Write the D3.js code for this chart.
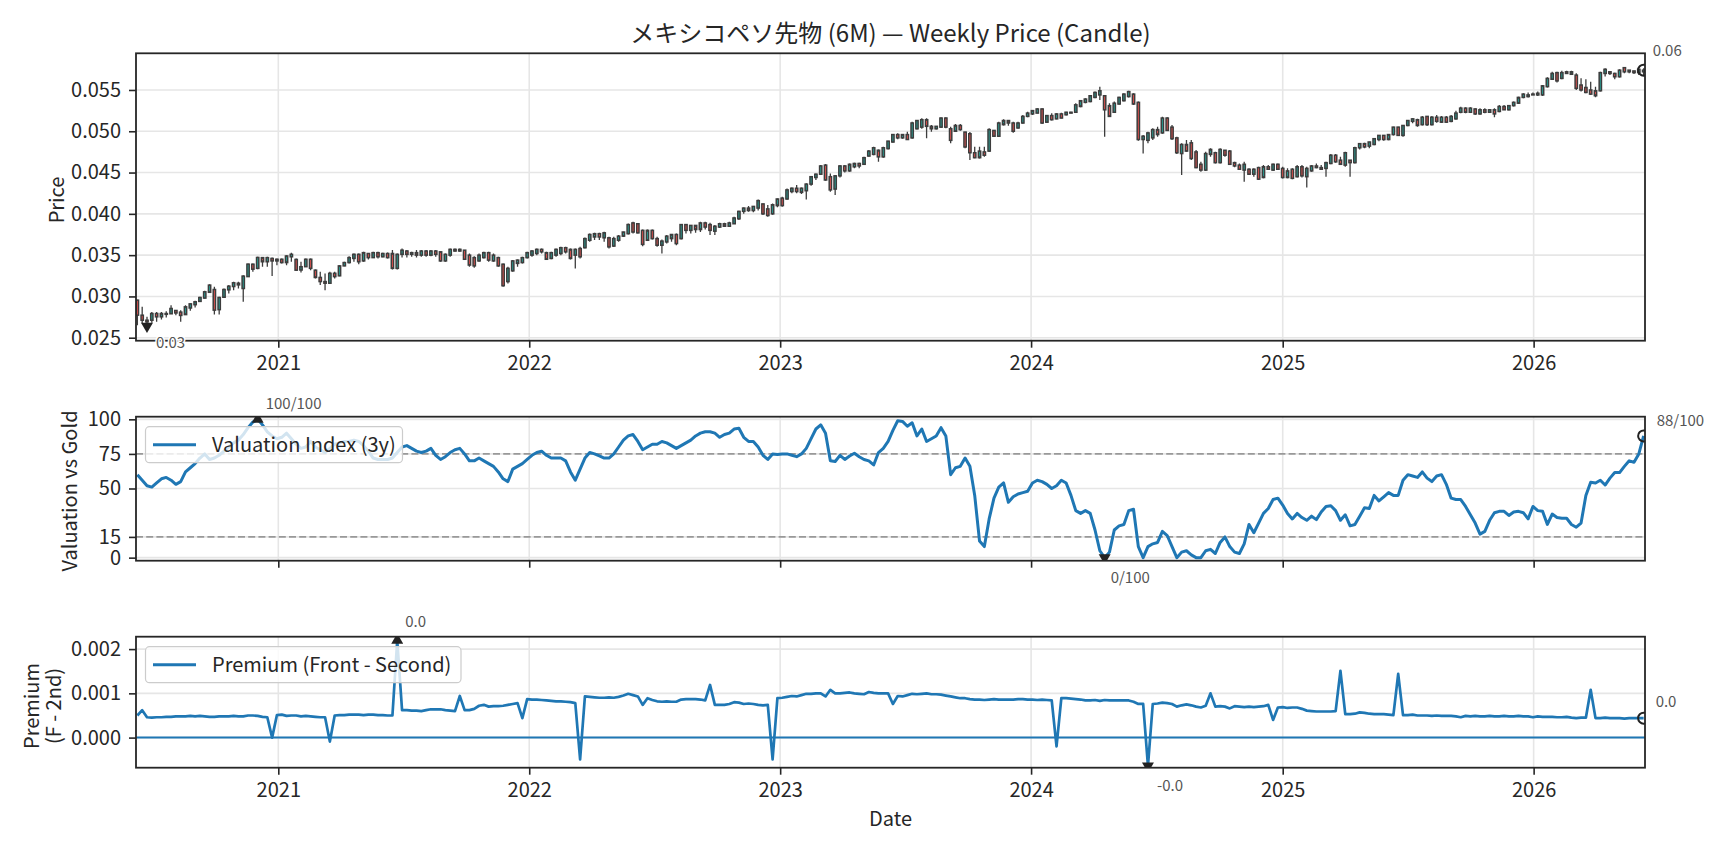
<!DOCTYPE html>
<html>
<head>
<meta charset="utf-8">
<script src="https://cdn.jsdelivr.net/npm/d3@7"></script>
<style>
  body { margin: 0; background: #fff; }
  svg text { font-family: "Noto Sans CJK JP", "Noto Sans", sans-serif; }
</style>
</head>
<body>
<div id="chart"></div>
<script>
// ---- data (weekly, first week below) ----
var firstWeek = "2020-06-10";

var priceOpen = [
  0.02955, 0.02773, 0.02712, 0.02712, 0.02793, 0.02753, 0.02793, 0.02790, 0.02830, 0.02810,
  0.02780, 0.02860, 0.02900, 0.02940, 0.02980, 0.03050, 0.03084, 0.02840, 0.02990, 0.03080,
  0.03120, 0.03160, 0.03096, 0.03240, 0.03390, 0.03340, 0.03470, 0.03420, 0.03460, 0.03430,
  0.03450, 0.03410, 0.03480, 0.03448, 0.03320, 0.03360, 0.03450, 0.03318, 0.03230, 0.03180,
  0.03160, 0.03280, 0.03250, 0.03370, 0.03410, 0.03460, 0.03510, 0.03430, 0.03520, 0.03470,
  0.03530, 0.03480, 0.03520, 0.03520, 0.03340, 0.03510, 0.03550, 0.03510, 0.03530, 0.03500,
  0.03550, 0.03500, 0.03550, 0.03540, 0.03430, 0.03500, 0.03570, 0.03550, 0.03560, 0.03500,
  0.03470, 0.03430, 0.03470, 0.03530, 0.03430, 0.03470, 0.03390, 0.03180, 0.03310, 0.03400,
  0.03410, 0.03470, 0.03500, 0.03520, 0.03570, 0.03530, 0.03460, 0.03500, 0.03520, 0.03590,
  0.03570, 0.03500, 0.03580, 0.03590, 0.03680, 0.03720, 0.03760, 0.03710, 0.03710, 0.03610,
  0.03680, 0.03730, 0.03760, 0.03890, 0.03880, 0.03800, 0.03680, 0.03800, 0.03700, 0.03620,
  0.03660, 0.03700, 0.03750, 0.03700, 0.03870, 0.03800, 0.03860, 0.03810, 0.03890, 0.03870,
  0.03790, 0.03840, 0.03880, 0.03850, 0.03880, 0.03940, 0.04030, 0.04070, 0.04040, 0.04070,
  0.04120, 0.04060, 0.04000, 0.04100, 0.04190, 0.04180, 0.04270, 0.04310, 0.04260, 0.04280,
  0.04360, 0.04440, 0.04480, 0.04590, 0.04450, 0.04300, 0.04460, 0.04580, 0.04520, 0.04570,
  0.04610, 0.04600, 0.04700, 0.04720, 0.04770, 0.04690, 0.04790, 0.04870, 0.04960, 0.04920,
  0.04960, 0.04920, 0.05030, 0.05050, 0.05140, 0.05060, 0.05030, 0.05050, 0.05160, 0.05030,
  0.05000, 0.05070, 0.04990, 0.04970, 0.04740, 0.04680, 0.04750, 0.04760, 0.05010, 0.04940,
  0.05080, 0.05130, 0.05100, 0.05040, 0.05100, 0.05180, 0.05210, 0.05220, 0.05270, 0.05110,
  0.05190, 0.05150, 0.05210, 0.05200, 0.05230, 0.05230, 0.05300, 0.05350, 0.05360, 0.05410,
  0.05440, 0.05430, 0.05310, 0.05230, 0.05330, 0.05370, 0.05420, 0.05450, 0.05350, 0.04900,
  0.04890, 0.04920, 0.05020, 0.04980, 0.05160, 0.05050, 0.04920, 0.04730, 0.04840, 0.04860,
  0.04750, 0.04600, 0.04530, 0.04720, 0.04740, 0.04620, 0.04770, 0.04760, 0.04620, 0.04590,
  0.04530, 0.04540, 0.04480, 0.04560, 0.04440, 0.04570, 0.04530, 0.04600, 0.04550, 0.04440,
  0.04540, 0.04450, 0.04570, 0.04450, 0.04520, 0.04580, 0.04560, 0.04550, 0.04610, 0.04710,
  0.04650, 0.04590, 0.04650, 0.04620, 0.04800, 0.04850, 0.04820, 0.04840, 0.04900, 0.04950,
  0.04900, 0.04960, 0.05050, 0.04950, 0.05070, 0.05120, 0.05140, 0.05080, 0.05180, 0.05080,
  0.05170, 0.05110, 0.05170, 0.05120, 0.05150, 0.05230, 0.05280, 0.05230, 0.05270, 0.05210,
  0.05260, 0.05230, 0.05260, 0.05240, 0.05300, 0.05260, 0.05310, 0.05340, 0.05410, 0.05420,
  0.05450, 0.05440, 0.05440, 0.05540, 0.05630, 0.05710, 0.05640, 0.05720, 0.05690, 0.05680,
  0.05560, 0.05530, 0.05500, 0.05490, 0.05490, 0.05700, 0.05720, 0.05700, 0.05660, 0.05770,
  0.05720, 0.05730, 0.05710, 0.05720
];

var priceHigh = [
  0.02960, 0.02874, 0.02753, 0.02813, 0.02813, 0.02813, 0.02820, 0.02894, 0.02834, 0.02834,
  0.02894, 0.02914, 0.02947, 0.02995, 0.03068, 0.03149, 0.03116, 0.02995, 0.03096, 0.03137,
  0.03177, 0.03177, 0.03258, 0.03399, 0.03400, 0.03480, 0.03472, 0.03480, 0.03470, 0.03460,
  0.03460, 0.03500, 0.03529, 0.03460, 0.03419, 0.03460, 0.03460, 0.03326, 0.03298, 0.03278,
  0.03298, 0.03298, 0.03379, 0.03419, 0.03488, 0.03520, 0.03520, 0.03541, 0.03525, 0.03541,
  0.03540, 0.03529, 0.03533, 0.03561, 0.03520, 0.03581, 0.03561, 0.03541, 0.03561, 0.03561,
  0.03561, 0.03561, 0.03561, 0.03545, 0.03520, 0.03581, 0.03581, 0.03581, 0.03561, 0.03520,
  0.03488, 0.03520, 0.03541, 0.03541, 0.03520, 0.03480, 0.03399, 0.03359, 0.03440, 0.03448,
  0.03480, 0.03541, 0.03561, 0.03581, 0.03581, 0.03541, 0.03541, 0.03581, 0.03601, 0.03601,
  0.03581, 0.03581, 0.03601, 0.03714, 0.03763, 0.03771, 0.03771, 0.03783, 0.03722, 0.03722,
  0.03743, 0.03783, 0.03884, 0.03904, 0.03884, 0.03811, 0.03811, 0.03811, 0.03722, 0.03690,
  0.03743, 0.03755, 0.03763, 0.03876, 0.03876, 0.03864, 0.03864, 0.03904, 0.03904, 0.03892,
  0.03864, 0.03892, 0.03892, 0.03904, 0.03965, 0.04037, 0.04078, 0.04094, 0.04094, 0.04175,
  0.04126, 0.04106, 0.04126, 0.04187, 0.04207, 0.04308, 0.04320, 0.04349, 0.04320, 0.04369,
  0.04458, 0.04490, 0.04591, 0.04603, 0.04490, 0.04470, 0.04591, 0.04591, 0.04611, 0.04619,
  0.04619, 0.04692, 0.04773, 0.04813, 0.04780, 0.04813, 0.04886, 0.04967, 0.04975, 0.04967,
  0.04995, 0.05116, 0.05136, 0.05157, 0.05157, 0.05076, 0.05064, 0.05169, 0.05169, 0.05056,
  0.05088, 0.05088, 0.04995, 0.04990, 0.04813, 0.04813, 0.04813, 0.05035, 0.05015, 0.05116,
  0.05144, 0.05136, 0.05116, 0.05116, 0.05197, 0.05237, 0.05258, 0.05278, 0.05278, 0.05197,
  0.05217, 0.05217, 0.05225, 0.05237, 0.05237, 0.05338, 0.05379, 0.05399, 0.05439, 0.05480,
  0.05540, 0.05439, 0.05338, 0.05359, 0.05419, 0.05460, 0.05492, 0.05460, 0.05359, 0.04955,
  0.04995, 0.05035, 0.05056, 0.05177, 0.05170, 0.05076, 0.04934, 0.04854, 0.04894, 0.04894,
  0.04773, 0.04631, 0.04753, 0.04793, 0.04753, 0.04793, 0.04773, 0.04773, 0.04631, 0.04611,
  0.04631, 0.04551, 0.04551, 0.04571, 0.04591, 0.04591, 0.04611, 0.04611, 0.04571, 0.04551,
  0.04551, 0.04591, 0.04591, 0.04571, 0.04591, 0.04611, 0.04591, 0.04631, 0.04724, 0.04724,
  0.04692, 0.04753, 0.04652, 0.04813, 0.04854, 0.04862, 0.04874, 0.04914, 0.04955, 0.04955,
  0.04967, 0.05056, 0.05056, 0.05076, 0.05136, 0.05157, 0.05150, 0.05185, 0.05185, 0.05185,
  0.05197, 0.05185, 0.05185, 0.05197, 0.05249, 0.05298, 0.05290, 0.05290, 0.05278, 0.05278,
  0.05278, 0.05266, 0.05278, 0.05318, 0.05318, 0.05318, 0.05359, 0.05419, 0.05460, 0.05468,
  0.05468, 0.05480, 0.05561, 0.05654, 0.05722, 0.05722, 0.05734, 0.05734, 0.05734, 0.05702,
  0.05641, 0.05629, 0.05601, 0.05540, 0.05722, 0.05763, 0.05730, 0.05710, 0.05750, 0.05775,
  0.05742, 0.05734, 0.05750, 0.05763
];

var priceLow = [
  0.02652, 0.02672, 0.02640, 0.02680, 0.02692, 0.02720, 0.02745, 0.02790, 0.02773, 0.02692,
  0.02775, 0.02826, 0.02866, 0.02935, 0.02975, 0.03045, 0.02781, 0.02781, 0.02985, 0.03036,
  0.03076, 0.03096, 0.02935, 0.03235, 0.03298, 0.03330, 0.03359, 0.03359, 0.03246, 0.03379,
  0.03399, 0.03379, 0.03419, 0.03310, 0.03290, 0.03355, 0.03318, 0.03217, 0.03137, 0.03076,
  0.03155, 0.03217, 0.03245, 0.03365, 0.03399, 0.03419, 0.03390, 0.03420, 0.03448, 0.03465,
  0.03460, 0.03475, 0.03460, 0.03326, 0.03326, 0.03472, 0.03472, 0.03480, 0.03472, 0.03480,
  0.03480, 0.03488, 0.03480, 0.03419, 0.03419, 0.03480, 0.03541, 0.03541, 0.03440, 0.03359,
  0.03347, 0.03419, 0.03460, 0.03419, 0.03419, 0.03359, 0.03116, 0.03157, 0.03298, 0.03359,
  0.03399, 0.03460, 0.03480, 0.03500, 0.03520, 0.03440, 0.03450, 0.03480, 0.03500, 0.03520,
  0.03448, 0.03339, 0.03460, 0.03580, 0.03662, 0.03682, 0.03682, 0.03662, 0.03581, 0.03600,
  0.03662, 0.03720, 0.03750, 0.03763, 0.03763, 0.03609, 0.03670, 0.03690, 0.03601, 0.03520,
  0.03642, 0.03662, 0.03621, 0.03690, 0.03763, 0.03763, 0.03771, 0.03780, 0.03811, 0.03743,
  0.03743, 0.03830, 0.03844, 0.03844, 0.03876, 0.03924, 0.04000, 0.04025, 0.04020, 0.04040,
  0.03985, 0.03965, 0.03990, 0.04080, 0.04086, 0.04170, 0.04248, 0.04248, 0.04240, 0.04175,
  0.04340, 0.04410, 0.04470, 0.04401, 0.04268, 0.04227, 0.04440, 0.04502, 0.04510, 0.04551,
  0.04551, 0.04591, 0.04690, 0.04710, 0.04631, 0.04680, 0.04780, 0.04860, 0.04902, 0.04910,
  0.04894, 0.04910, 0.05020, 0.05030, 0.04914, 0.04995, 0.05020, 0.05040, 0.05035, 0.04854,
  0.04995, 0.05007, 0.04793, 0.04652, 0.04672, 0.04670, 0.04692, 0.04750, 0.04934, 0.04930,
  0.05070, 0.05068, 0.04983, 0.05030, 0.05090, 0.05169, 0.05197, 0.05217, 0.05088, 0.05100,
  0.05130, 0.05144, 0.05157, 0.05190, 0.05217, 0.05220, 0.05290, 0.05340, 0.05350, 0.05400,
  0.05379, 0.04934, 0.05177, 0.05220, 0.05320, 0.05360, 0.05410, 0.05318, 0.04886, 0.04732,
  0.04854, 0.04894, 0.04934, 0.04970, 0.05007, 0.04894, 0.04724, 0.04470, 0.04753, 0.04652,
  0.04551, 0.04510, 0.04520, 0.04690, 0.04611, 0.04610, 0.04692, 0.04591, 0.04563, 0.04530,
  0.04389, 0.04470, 0.04450, 0.04409, 0.04430, 0.04530, 0.04520, 0.04530, 0.04429, 0.04430,
  0.04420, 0.04440, 0.04440, 0.04320, 0.04510, 0.04551, 0.04530, 0.04450, 0.04600, 0.04619,
  0.04591, 0.04571, 0.04450, 0.04610, 0.04780, 0.04793, 0.04793, 0.04830, 0.04880, 0.04886,
  0.04890, 0.04950, 0.04942, 0.04934, 0.05060, 0.05096, 0.05056, 0.05070, 0.05064, 0.05070,
  0.05104, 0.05100, 0.05104, 0.05110, 0.05140, 0.05217, 0.05217, 0.05220, 0.05197, 0.05200,
  0.05217, 0.05220, 0.05169, 0.05230, 0.05258, 0.05250, 0.05300, 0.05330, 0.05400, 0.05410,
  0.05439, 0.05427, 0.05427, 0.05530, 0.05620, 0.05589, 0.05630, 0.05694, 0.05682, 0.05500,
  0.05480, 0.05460, 0.05439, 0.05411, 0.05480, 0.05662, 0.05682, 0.05629, 0.05650, 0.05702,
  0.05702, 0.05694, 0.05682, 0.05682
];

var priceClose = [
  0.02773, 0.02712, 0.02692, 0.02793, 0.02753, 0.02793, 0.02790, 0.02854, 0.02800, 0.02770,
  0.02874, 0.02910, 0.02935, 0.02987, 0.03056, 0.03137, 0.02834, 0.02987, 0.03084, 0.03124,
  0.03165, 0.03140, 0.03246, 0.03391, 0.03330, 0.03472, 0.03420, 0.03470, 0.03430, 0.03450,
  0.03410, 0.03490, 0.03510, 0.03318, 0.03360, 0.03450, 0.03340, 0.03230, 0.03180, 0.03160,
  0.03280, 0.03240, 0.03370, 0.03410, 0.03470, 0.03510, 0.03420, 0.03530, 0.03470, 0.03530,
  0.03480, 0.03520, 0.03470, 0.03340, 0.03510, 0.03560, 0.03510, 0.03530, 0.03500, 0.03550,
  0.03500, 0.03550, 0.03510, 0.03430, 0.03510, 0.03570, 0.03550, 0.03570, 0.03450, 0.03380,
  0.03370, 0.03500, 0.03530, 0.03440, 0.03500, 0.03370, 0.03130, 0.03340, 0.03430, 0.03440,
  0.03470, 0.03530, 0.03550, 0.03570, 0.03540, 0.03450, 0.03530, 0.03570, 0.03590, 0.03540,
  0.03460, 0.03570, 0.03480, 0.03700, 0.03750, 0.03760, 0.03720, 0.03770, 0.03600, 0.03700,
  0.03730, 0.03780, 0.03870, 0.03780, 0.03770, 0.03630, 0.03800, 0.03700, 0.03620, 0.03670,
  0.03730, 0.03750, 0.03640, 0.03870, 0.03800, 0.03860, 0.03810, 0.03890, 0.03840, 0.03800,
  0.03850, 0.03880, 0.03850, 0.03890, 0.03950, 0.04030, 0.04070, 0.04040, 0.04090, 0.04160,
  0.04000, 0.03980, 0.04110, 0.04180, 0.04100, 0.04290, 0.04310, 0.04270, 0.04310, 0.04360,
  0.04450, 0.04480, 0.04580, 0.04410, 0.04290, 0.04460, 0.04580, 0.04520, 0.04600, 0.04610,
  0.04580, 0.04680, 0.04760, 0.04800, 0.04690, 0.04800, 0.04880, 0.04960, 0.04920, 0.04960,
  0.04900, 0.05100, 0.05130, 0.05140, 0.05060, 0.05030, 0.05060, 0.05160, 0.05050, 0.04890,
  0.05070, 0.05020, 0.04810, 0.04740, 0.04680, 0.04760, 0.04710, 0.05020, 0.04940, 0.05100,
  0.05130, 0.05100, 0.05000, 0.05100, 0.05180, 0.05220, 0.05250, 0.05270, 0.05100, 0.05190,
  0.05140, 0.05210, 0.05160, 0.05230, 0.05220, 0.05320, 0.05370, 0.05390, 0.05430, 0.05470,
  0.05490, 0.05260, 0.05180, 0.05340, 0.05410, 0.05450, 0.05480, 0.05330, 0.04900, 0.04940,
  0.04980, 0.05020, 0.04960, 0.05160, 0.05010, 0.04910, 0.04740, 0.04840, 0.04760, 0.04670,
  0.04560, 0.04530, 0.04730, 0.04780, 0.04620, 0.04780, 0.04710, 0.04600, 0.04580, 0.04540,
  0.04600, 0.04480, 0.04540, 0.04420, 0.04570, 0.04540, 0.04600, 0.04540, 0.04440, 0.04520,
  0.04430, 0.04570, 0.04460, 0.04550, 0.04580, 0.04560, 0.04540, 0.04620, 0.04710, 0.04630,
  0.04600, 0.04740, 0.04620, 0.04800, 0.04850, 0.04810, 0.04870, 0.04910, 0.04950, 0.04900,
  0.04960, 0.05050, 0.04950, 0.05070, 0.05130, 0.05150, 0.05070, 0.05170, 0.05080, 0.05170,
  0.05120, 0.05170, 0.05110, 0.05180, 0.05220, 0.05280, 0.05230, 0.05280, 0.05210, 0.05260,
  0.05230, 0.05260, 0.05210, 0.05300, 0.05260, 0.05310, 0.05350, 0.05410, 0.05450, 0.05440,
  0.05440, 0.05460, 0.05550, 0.05640, 0.05700, 0.05610, 0.05710, 0.05700, 0.05720, 0.05520,
  0.05500, 0.05470, 0.05450, 0.05430, 0.05710, 0.05750, 0.05700, 0.05660, 0.05740, 0.05720,
  0.05740, 0.05710, 0.05750, 0.05740
];

var valuation = [
  60, 56, 52, 51, 54, 57, 58, 56, 53, 55,
  62, 65, 68, 72, 75, 71, 72, 74, 77, 80,
  83, 85, 89, 94, 98, 100, 96, 91, 88, 86,
  87, 90, 86, 82, 79, 80, 84, 80, 78, 76,
  79, 82, 83, 84, 84, 85, 84, 81, 77, 72,
  71, 71, 71, 72, 76, 80, 81, 79, 77, 76,
  77, 79, 74, 71, 73, 76, 78, 79, 75, 70,
  70, 72, 70, 68, 66, 62, 57, 55, 64, 66,
  68, 71, 74, 76, 77, 74, 72, 72, 72, 70,
  62, 56, 64, 72, 76, 75, 73.5, 72, 72, 75,
  80, 85, 88, 89, 84, 78, 80, 82, 82, 84,
  83, 81, 79, 81, 83, 85, 88, 90, 91, 91,
  90, 87, 89, 90, 93, 93.5, 87, 84, 84, 80,
  74, 71, 75, 74.5, 75, 75, 74, 73, 75, 79,
  86, 93, 96, 90, 70, 69.5, 74, 71, 73.5, 75.5,
  73, 71, 70, 67, 76, 79, 84, 92, 99, 98.5,
  95, 97.5, 88, 93, 84, 86, 88, 94, 88, 60,
  65, 66, 72, 66, 45, 12, 8, 28, 43, 51,
  54, 40, 44, 46, 47, 48, 54, 56, 55, 53,
  50, 52, 56, 54, 45, 34, 32, 34, 32, 20,
  5, 0, 4, 20, 23, 24, 34, 35, 8, 0,
  8, 10, 11, 19, 16, 8, 0, 4, 5, 2,
  0, 0, 5, 6, 3, 11, 15, 8, 4, 3,
  10, 24, 18, 25, 32, 35.5, 42, 43, 38, 32,
  28, 32, 29, 27, 30, 27.5, 33, 37, 37.5, 34,
  27, 31, 23, 24, 30, 36, 35.5, 45, 41, 44,
  47, 45, 45, 56, 60, 59, 58, 62, 57.5, 55,
  59, 60, 53, 43, 42, 42, 37, 31, 25, 17,
  19, 27, 32.5, 33.5, 33.5, 30.5, 33, 33.5, 32.5, 28,
  37, 34, 33.5, 24, 31.5, 29, 28.5, 28.5, 24, 22,
  25, 45, 54.5, 54, 56, 52.5, 57.5, 61.5, 61.5, 66,
  70, 69, 75, 88
];

var premium = [
  0.00050, 0.00062, 0.00046, 0.00045, 0.00046, 0.00046, 0.00047, 0.00047, 0.00048, 0.00048,
  0.00048, 0.00049, 0.00048, 0.00049, 0.00048, 0.00047, 0.00047, 0.00048, 0.00048, 0.00048,
  0.00049, 0.00048, 0.00048, 0.00050, 0.00050, 0.00049, 0.00047, 0.00046, 0.00000, 0.00051,
  0.00052, 0.00049, 0.00050, 0.00050, 0.00048, 0.00049, 0.00048, 0.00047, 0.00046, 0.00046,
  -0.00009, 0.00050, 0.00051, 0.00051, 0.00052, 0.00052, 0.00052, 0.00051, 0.00052, 0.00052,
  0.00051, 0.00051, 0.00050, 0.00050, 0.00220, 0.00062, 0.00062, 0.00061, 0.00061, 0.00060,
  0.00062, 0.00064, 0.00064, 0.00064, 0.00062, 0.00061, 0.00060, 0.00094, 0.00062, 0.00062,
  0.00065, 0.00072, 0.00074, 0.00070, 0.00071, 0.00071, 0.00072, 0.00074, 0.00076, 0.00078,
  0.00044, 0.00087, 0.00086, 0.00086, 0.00085, 0.00084, 0.00083, 0.00082, 0.00082, 0.00081,
  0.00080, 0.00078, -0.00049, 0.00093, 0.00092, 0.00091, 0.00090, 0.00090, 0.00091, 0.00090,
  0.00092, 0.00095, 0.00099, 0.00096, 0.00093, 0.00074, 0.00089, 0.00085, 0.00082, 0.00081,
  0.00082, 0.00081, 0.00081, 0.00086, 0.00087, 0.00087, 0.00087, 0.00086, 0.00084, 0.00119,
  0.00074, 0.00074, 0.00074, 0.00076, 0.00080, 0.00079, 0.00076, 0.00077, 0.00076, 0.00074,
  0.00073, 0.00074, -0.00049, 0.00089, 0.00090, 0.00092, 0.00094, 0.00093, 0.00096, 0.00099,
  0.00099, 0.00100, 0.00100, 0.00093, 0.00108, 0.00100, 0.00100, 0.00101, 0.00102, 0.00100,
  0.00099, 0.00098, 0.00103, 0.00101, 0.00100, 0.00100, 0.00100, 0.00076, 0.00094, 0.00093,
  0.00096, 0.00099, 0.00098, 0.00099, 0.00100, 0.00098, 0.00098, 0.00097, 0.00095, 0.00093,
  0.00091, 0.00089, 0.00089, 0.00087, 0.00086, 0.00086, 0.00085, 0.00086, 0.00087, 0.00086,
  0.00086, 0.00086, 0.00086, 0.00087, 0.00087, 0.00086, 0.00086, 0.00085, 0.00086, 0.00085,
  0.00084, -0.00020, 0.00089, 0.00089, 0.00088, 0.00087, 0.00086, 0.00084, 0.00084, 0.00085,
  0.00083, 0.00085, 0.00084, 0.00084, 0.00084, 0.00084, 0.00084, 0.00081, 0.00076, 0.00076,
  -0.00064, 0.00076, 0.00077, 0.00079, 0.00078, 0.00076, 0.00070, 0.00073, 0.00075, 0.00073,
  0.00070, 0.00068, 0.00072, 0.00100, 0.00070, 0.00071, 0.00070, 0.00066, 0.00071, 0.00070,
  0.00069, 0.00070, 0.00069, 0.00070, 0.00071, 0.00074, 0.00040, 0.00068, 0.00069, 0.00067,
  0.00068, 0.00068, 0.00065, 0.00061, 0.00060, 0.00059, 0.00059, 0.00059, 0.00059, 0.00060,
  0.00151, 0.00053, 0.00053, 0.00054, 0.00057, 0.00056, 0.00054, 0.00053, 0.00053, 0.00053,
  0.00052, 0.00051, 0.00144, 0.00051, 0.00051, 0.00052, 0.00050, 0.00050, 0.00050, 0.00049,
  0.00050, 0.00049, 0.00049, 0.00049, 0.00048, 0.00046, 0.00049, 0.00048, 0.00049, 0.00048,
  0.00048, 0.00049, 0.00048, 0.00048, 0.00049, 0.00048, 0.00048, 0.00049, 0.00048, 0.00048,
  0.00046, 0.00048, 0.00047, 0.00047, 0.00047, 0.00046, 0.00046, 0.00047, 0.00045, 0.00044,
  0.00045, 0.00045, 0.00108, 0.00044, 0.00044, 0.00045, 0.00044, 0.00044, 0.00044, 0.00043,
  0.00044, 0.00044, 0.00044, 0.00044
];

var yearTicks = [2021, 2022, 2023, 2024, 2025, 2026];
var priceTicks = [0.025, 0.030, 0.035, 0.040, 0.045, 0.050, 0.055];
var valuationTicks = [0, 15, 50, 75, 100];
var valuationBands = [15, 75];
var premiumTicks = [0.000, 0.001, 0.002];

// ---- layout ----
var width = 1728, height = 849;
var left = 136, right = 1645;
var pPrice = {top: 53.3, bottom: 340.7};
var pVal = {top: 416.7, bottom: 560.7};
var pPrem = {top: 636.7, bottom: 767.7};
var C0 = "#1f77b4", ink = "#262626";

var svg = d3.select("#chart")
  .append("svg")
    .attr("width", width)
    .attr("height", height);

var parse = d3.timeParse("%Y-%m-%d");
var start = parse(firstWeek);
var dates = priceClose.map(function(d, i) { return d3.timeDay.offset(start, 7 * i); });
var n = dates.length;

var x = d3.scaleTime()
  .domain([parse("2020-06-08"), parse("2026-06-12")])
  .range([left, right]);
var yearDates = yearTicks.map(function(yr) { return new Date(yr, 0, 1); });

var yPrice = d3.scaleLinear().domain([0.02464, 0.05944]).range([pPrice.bottom, pPrice.top]);
var yVal = d3.scaleLinear().domain([-2.2, 101.9]).range([pVal.bottom, pVal.top]);
var yPrem = d3.scaleLinear().domain([-0.00068, 0.00228]).range([pPrem.bottom, pPrem.top]);

var defs = svg.append("defs");

// grid + clip for one panel
function frame(p, y, ticks, id) {
  defs.append("clipPath").attr("id", id)
    .append("rect")
      .attr("x", left).attr("y", p.top)
      .attr("width", right - left).attr("height", p.bottom - p.top);
  var g = svg.append("g");
  g.selectAll(null).data(yearDates).enter().append("line")
    .attr("x1", function(d) { return x(d); }).attr("x2", function(d) { return x(d); })
    .attr("y1", p.top).attr("y2", p.bottom)
    .attr("stroke", "#e6e6e6").attr("stroke-width", 1.6);
  g.selectAll(null).data(ticks).enter().append("line")
    .attr("x1", left).attr("x2", right)
    .attr("y1", function(d) { return y(d); }).attr("y2", function(d) { return y(d); })
    .attr("stroke", "#e6e6e6").attr("stroke-width", 1.6);
  return g;
}

function axes(p, y, ticks, fmt, xLabels) {
  svg.append("rect")
    .attr("x", left).attr("y", p.top)
    .attr("width", right - left).attr("height", p.bottom - p.top)
    .attr("fill", "none").attr("stroke", ink).attr("stroke-width", 1.8);
  var gx = svg.append("g")
    .attr("transform", "translate(0," + p.bottom + ")")
    .call(d3.axisBottom(x).tickValues(yearDates).tickSize(7).tickPadding(8)
      .tickFormat(xLabels ? d3.timeFormat("%Y") : function() { return ""; }));
  var gy = svg.append("g")
    .attr("transform", "translate(" + left + ",0)")
    .call(d3.axisLeft(y).tickValues(ticks).tickSize(7).tickPadding(8).tickFormat(fmt));
  [gx, gy].forEach(function(g) {
    g.attr("font-family", null).attr("font-size", 20);
    g.select(".domain").remove();
    g.selectAll(".tick line").attr("stroke", ink).attr("stroke-width", 1.6);
    g.selectAll(".tick text").attr("fill", ink);
  });
}

function marker(g, type, cx, cy) {
  if (type === "o") {
    g.append("circle").attr("cx", cx).attr("cy", cy).attr("r", 5.5)
      .attr("fill", "none").attr("stroke", "#222").attr("stroke-width", 2);
  } else {
    g.append("path")
      .attr("d", d3.symbol(d3.symbolTriangle, 62)())
      .attr("transform", "translate(" + cx + "," + cy + ")" + (type === "v" ? " rotate(180)" : ""))
      .attr("fill", "#222");
  }
}

function note(cx, cy, label, dx, dy) {
  svg.append("text")
    .attr("x", cx + dx).attr("y", cy + dy)
    .attr("fill", "#555").attr("font-size", 15)
    .attr("stroke", "#fff").attr("stroke-width", 3).attr("stroke-linejoin", "round")
    .attr("paint-order", "stroke")
    .text(label);
}

function legend(top, w, label) {
  var g = svg.append("g");
  g.append("rect")
    .attr("x", 145.5).attr("y", top).attr("width", w).attr("height", 36).attr("rx", 4)
    .attr("fill", "#fff").attr("fill-opacity", 0.8)
    .attr("stroke", "#cccccc").attr("stroke-width", 1.2);
  g.append("line").attr("x1", 153).attr("x2", 196).attr("y1", top + 18).attr("y2", top + 18)
    .attr("stroke", C0).attr("stroke-width", 3);
  g.append("text").attr("x", 212).attr("y", top + 25).attr("font-size", 20).attr("fill", ink)
    .text(label);
}

function ylabel(lines, cx, cy, gap) {
  var t = svg.append("text")
    .attr("transform", "translate(" + cx + "," + cy + ") rotate(-90)")
    .attr("text-anchor", "middle").attr("font-size", 20).attr("fill", ink);
  lines.forEach(function(s, i) {
    t.append("tspan").attr("x", 0).attr("dy", i === 0 ? 0 : gap).text(s);
  });
}

// ---- title ----
svg.append("text")
  .attr("x", (left + right) / 2).attr("y", 42)
  .attr("text-anchor", "middle").attr("font-size", 24).attr("fill", ink)
  .text("メキシコペソ先物 (6M) — Weekly Price (Candle)");

// ---- panel 1: candles ----
frame(pPrice, yPrice, priceTicks, "clip-price");
var gc = svg.append("g").attr("clip-path", "url(#clip-price)");
var bodyW = 2.3;
var candle = gc.selectAll(null).data(dates).enter().append("g");
candle.append("line")
  .attr("x1", function(d) { return x(d); }).attr("x2", function(d) { return x(d); })
  .attr("y1", function(d, i) { return yPrice(Math.max(priceHigh[i], priceOpen[i], priceClose[i])); })
  .attr("y2", function(d, i) { return yPrice(Math.min(priceLow[i], priceOpen[i], priceClose[i])); })
  .attr("stroke", "#3d3d3d").attr("stroke-width", 1.3);
candle.append("rect")
  .attr("x", function(d) { return x(d) - bodyW / 2; })
  .attr("width", bodyW)
  .attr("y", function(d, i) { return yPrice(Math.max(priceOpen[i], priceClose[i])); })
  .attr("height", function(d, i) { return Math.max(0.8, Math.abs(yPrice(priceOpen[i]) - yPrice(priceClose[i]))); })
  .attr("fill", function(d, i) { return priceClose[i] >= priceOpen[i] ? "#26a69a" : "#ef5350"; })
  .attr("stroke", "#3d3d3d").attr("stroke-width", 1.5);

var gm1 = svg.append("g").attr("clip-path", "url(#clip-price)");
var iLow = d3.minIndex(priceLow);
marker(gm1, "v", x(dates[iLow]), yPrice(priceLow[iLow]));
marker(gm1, "o", x(dates[n - 1]), yPrice(priceClose[n - 1]));
axes(pPrice, yPrice, priceTicks, d3.format(".3f"), true);
note(x(dates[iLow]), yPrice(priceLow[iLow]), priceLow[iLow].toFixed(2), 9, 22);
note(x(dates[n - 1]), yPrice(priceClose[n - 1]), priceClose[n - 1].toFixed(2), 9, -14);
ylabel(["Price"], 64, 200, 0);

// ---- panel 2: valuation ----
frame(pVal, yVal, valuationTicks, "clip-val");
var gv = svg.append("g").attr("clip-path", "url(#clip-val)");
gv.selectAll(null).data(valuationBands).enter().append("line")
  .attr("x1", left).attr("x2", right)
  .attr("y1", function(d) { return yVal(d); }).attr("y2", function(d) { return yVal(d); })
  .attr("stroke", "#999").attr("stroke-width", 1.8).attr("stroke-dasharray", "7,3.2");
gv.append("path")
  .datum(valuation)
  .attr("fill", "none").attr("stroke", C0).attr("stroke-width", 3).attr("stroke-linejoin", "round")
  .attr("d", d3.line().x(function(d, i) { return x(dates[i]); }).y(function(d) { return yVal(d); }));
legend(426.7, 257, "Valuation Index (3y)");
var gm2 = svg.append("g").attr("clip-path", "url(#clip-val)");
var vMax = d3.maxIndex(valuation), vMin = d3.minIndex(valuation);
marker(gm2, "^", x(dates[vMax]), yVal(valuation[vMax]));
marker(gm2, "v", x(dates[vMin]), yVal(valuation[vMin]));
marker(gm2, "o", x(dates[n - 1]), yVal(valuation[n - 1]));
axes(pVal, yVal, valuationTicks, d3.format("d"), false);
note(x(dates[vMax]), yVal(valuation[vMax]), Math.round(valuation[vMax]) + "/100", 8, -10);
note(x(dates[vMin]), yVal(valuation[vMin]), Math.round(valuation[vMin]) + "/100", 6, 25);
note(x(dates[n - 1]), yVal(valuation[n - 1]), Math.round(valuation[n - 1]) + "/100", 13, -10);
ylabel(["Valuation vs Gold"], 77, 491, 0);

// ---- panel 3: premium ----
frame(pPrem, yPrem, premiumTicks, "clip-prem");
var gp = svg.append("g").attr("clip-path", "url(#clip-prem)");
gp.append("line")
  .attr("x1", left).attr("x2", right).attr("y1", yPrem(0)).attr("y2", yPrem(0))
  .attr("stroke", C0).attr("stroke-width", 2);
gp.append("path")
  .datum(premium)
  .attr("fill", "none").attr("stroke", C0).attr("stroke-width", 2.7).attr("stroke-linejoin", "round")
  .attr("d", d3.line().x(function(d, i) { return x(dates[i]); }).y(function(d) { return yPrem(d); }));
legend(646.7, 315.5, "Premium (Front - Second)");
var gm3 = svg.append("g").attr("clip-path", "url(#clip-prem)");
var pMax = d3.maxIndex(premium), pMin = d3.minIndex(premium);
marker(gm3, "^", x(dates[pMax]), yPrem(premium[pMax]));
marker(gm3, "v", x(dates[pMin]), yPrem(premium[pMin]));
marker(gm3, "o", x(dates[n - 1]), yPrem(premium[n - 1]));
axes(pPrem, yPrem, premiumTicks, d3.format(".3f"), true);
note(x(dates[pMax]), yPrem(premium[pMax]), premium[pMax].toFixed(1), 8, -13);
note(x(dates[pMin]), yPrem(premium[pMin]), premium[pMin].toFixed(1), 9, 25);
note(x(dates[n - 1]), yPrem(premium[n - 1]), premium[n - 1].toFixed(1), 12, -11);
ylabel(["Premium", "(F - 2nd)"], 39, 706, 22);

svg.append("text")
  .attr("x", (left + right) / 2).attr("y", 826)
  .attr("text-anchor", "middle").attr("font-size", 20).attr("fill", ink)
  .text("Date");
</script>
</body>
</html>
